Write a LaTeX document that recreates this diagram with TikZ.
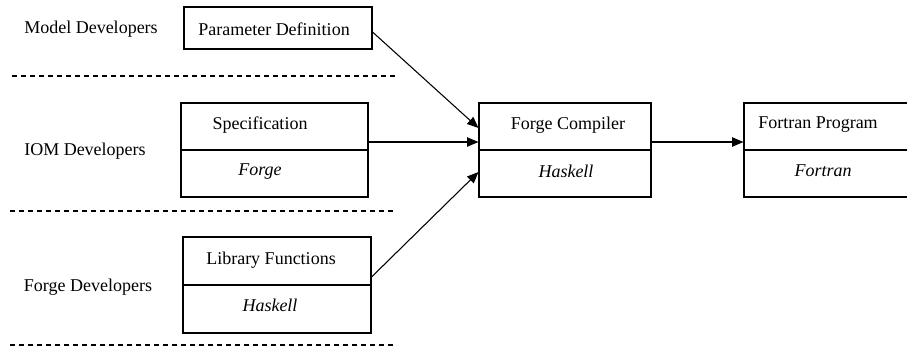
\documentclass[tikz,border=0pt]{standalone}
\usepackage{fontspec}
\setmainfont{Liberation Serif}
\usetikzlibrary{arrows.meta}
\begin{document}
\begin{tikzpicture}[x=0.75pt,y=-0.75pt,
  every node/.style={font=\fontsize{13.5}{16}\selectfont},
  box/.style={draw, line width=0.8pt, inner sep=0pt},
  lbl/.style={inner sep=0pt},
  sep/.style={line width=0.8pt, dash pattern=on 3.75pt off 3pt},
  arr/.style={line width=0.8pt, -{Triangle[length=8.5pt,width=7pt]}}]
\useasboundingbox (0,0) rectangle (907,347);
% role labels
\node[lbl] (md) at (91,29) {Model Developers};
\node[lbl] (iom) at (85,151) {IOM Developers};
\node[lbl] (fd) at (88,287) {Forge Developers};
% separators
\draw[sep] (12,76) -- (397,76);
\draw[sep] (10,211) -- (397,211);
\draw[sep] (10,345) -- (397,345);
% boxes
\node[box, minimum width=141pt, minimum height=31.5pt] (pd) at (278,28) {};
\node[lbl] (pdt) at (274,29) {Parameter Definition};
\node[box, minimum width=140.25pt, minimum height=70.5pt] (spec) at (274.5,150) {};
\draw[line width=0.8pt] (spec.west) -- (spec.east);
\node[lbl] (spect) at (260,125) {Specification};
\node[lbl] (specl) at (260,172) {\itshape Forge};
\node[box, minimum width=141pt, minimum height=72pt] (lib) at (277,285) {};
\draw[line width=0.8pt] (lib.west) -- (lib.east);
\node[lbl] (libt) at (271,260) {Library Functions};
\node[lbl] (libl) at (270,305) {\itshape Haskell};
\node[box, minimum width=129pt, minimum height=70.5pt] (fc) at (565,150) {};
\draw[line width=0.8pt] (fc.west) -- (fc.east);
\node[lbl] (fct) at (568,125) {Forge Compiler};
\node[lbl] (fcl) at (566,171) {\itshape Haskell};
\node[box, minimum width=162pt, minimum height=70.5pt] (fp) at (852,150) {};
\draw[line width=0.8pt] (fp.west) -- (fp.east);
\node[lbl] (fpt) at (818,125) {Fortran Program};
\node[lbl] (fpl) at (823,171) {\itshape Fortran};
% arrows
\draw[arr] ([yshift=-3pt]pd.east) -- ([yshift=16.5pt]fc.west);
\draw[arr] ([yshift=6pt]spec.east) -- ([yshift=6pt]fc.west);
\draw[arr] ([yshift=6pt]lib.east) -- ([yshift=-16.5pt]fc.west);
\draw[arr] ([yshift=6pt]fc.east) -- ([yshift=6pt]fp.west);
\end{tikzpicture}
\end{document}
